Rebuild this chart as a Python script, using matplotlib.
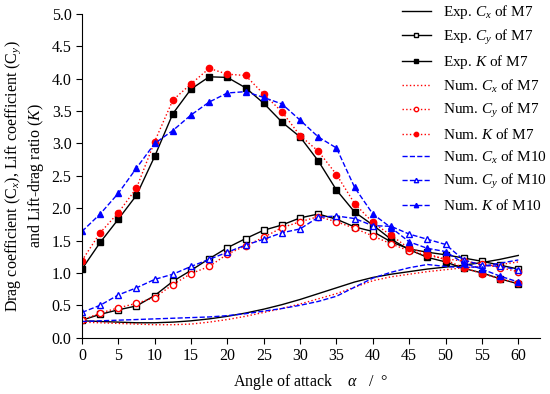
import matplotlib
matplotlib.use("Agg")
import matplotlib.pyplot as plt
import numpy as np

plt.rcParams['font.family'] = ['Liberation Serif', 'DejaVu Serif']
plt.rcParams['mathtext.fontset'] = 'custom'
plt.rcParams['mathtext.rm'] = 'Liberation Serif'
plt.rcParams['mathtext.it'] = 'Liberation Serif:italic'

alpha = [0, 2.5, 5, 7.5, 10, 12.5, 15, 17.5, 20, 22.5, 25, 27.5, 30,
         32.5, 35, 37.5, 40, 42.5, 45, 47.5, 50, 52.5, 55, 57.5, 60]

exp_cx_m7 = [0.26, 0.25, 0.24, 0.23, 0.23, 0.24, 0.26, 0.29, 0.33, 0.38, 0.44, 0.51, 0.59,
             0.68, 0.77, 0.86, 0.93, 0.98, 1.02, 1.06, 1.09, 1.12, 1.16, 1.21, 1.27]
exp_cy_m7 = [0.27, 0.36, 0.43, 0.49, 0.65, 0.87, 1.04, 1.22, 1.39, 1.53, 1.66, 1.74, 1.85,
             1.91, 1.83, 1.71, 1.64, 1.48, 1.37, 1.32, 1.28, 1.23, 1.18, 1.12, 1.06]
exp_k_m7 = [1.06, 1.47, 1.83, 2.20, 2.80, 3.46, 3.84, 4.03, 4.02, 3.86, 3.62, 3.33, 3.10,
            2.73, 2.28, 1.94, 1.74, 1.52, 1.36, 1.24, 1.17, 1.07, 1.00, 0.91, 0.83]

num_cx_m7 = [0.24, 0.23, 0.22, 0.21, 0.20, 0.20, 0.21, 0.24, 0.28, 0.33, 0.39, 0.45, 0.52,
             0.60, 0.68, 0.78, 0.88, 0.94, 0.98, 1.02, 1.05, 1.08, 1.10, 1.13, 1.17]
num_cy_m7 = [0.27, 0.38, 0.46, 0.53, 0.62, 0.82, 0.99, 1.10, 1.29, 1.42, 1.55, 1.70, 1.79,
             1.87, 1.79, 1.69, 1.57, 1.45, 1.34, 1.27, 1.22, 1.18, 1.14, 1.08, 1.02]
num_k_m7 = [1.19, 1.62, 1.93, 2.31, 3.03, 3.67, 3.92, 4.16, 4.07, 4.05, 3.76, 3.49, 3.12,
            2.88, 2.52, 2.07, 1.78, 1.58, 1.38, 1.30, 1.20, 1.08, 0.99, 0.91, 0.84]

num_cx_m10 = [0.25, 0.26, 0.27, 0.28, 0.29, 0.30, 0.31, 0.32, 0.34, 0.37, 0.41, 0.45, 0.50,
              0.56, 0.64, 0.78, 0.92, 1.01, 1.08, 1.13, 1.10, 1.08, 1.10, 1.15, 1.20]
num_cy_m10 = [0.39, 0.50, 0.66, 0.77, 0.90, 0.98, 1.10, 1.21, 1.32, 1.43, 1.52, 1.62, 1.68,
              1.86, 1.88, 1.84, 1.73, 1.72, 1.60, 1.52, 1.44, 1.20, 1.12, 1.10, 1.05]
num_k_m10 = [1.64, 1.91, 2.23, 2.62, 3.00, 3.20, 3.44, 3.64, 3.78, 3.80, 3.71, 3.61, 3.36,
             3.10, 2.93, 2.32, 1.91, 1.70, 1.48, 1.38, 1.33, 1.15, 1.06, 0.95, 0.86]

labels = ['Exp. $C_x$ of M7', 'Exp. $C_y$ of M7', 'Exp. $K$ of M7',
          'Num. $C_x$ of M7', 'Num. $C_y$ of M7', 'Num. $K$ of M7',
          'Num. $C_x$ of M10', 'Num. $C_y$ of M10', 'Num. $K$ of M10']

fig = plt.figure(figsize=(5.5, 3.94), dpi=100)
ax = fig.add_axes([0.149, 0.143, 0.833, 0.8215])

ms = 4.5
lw = 1.0
ax.plot(alpha, exp_cx_m7, '-', color='black', lw=lw, label=labels[0])
ax.plot(alpha, exp_cy_m7, '-', color='black', lw=lw, marker='s', ms=ms,
        mfc='white', mec='black', label=labels[1])
ax.plot(alpha, exp_k_m7, '-', color='black', lw=lw, marker='s', ms=ms,
        mfc='black', mec='black', label=labels[2])
ax.plot(alpha, num_cx_m7, ':', color='red', lw=lw, label=labels[3])
ax.plot(alpha, num_cy_m7, ':', color='red', lw=lw, marker='o', ms=ms,
        mfc='white', mec='red', label=labels[4])
ax.plot(alpha, num_k_m7, ':', color='red', lw=lw, marker='o', ms=ms,
        mfc='red', mec='red', label=labels[5])
ax.plot(alpha, num_cx_m10, '--', color='blue', lw=lw, label=labels[6])
ax.plot(alpha, num_cy_m10, '--', color='blue', lw=lw, marker='^', ms=ms,
        mfc='white', mec='blue', label=labels[7])
ax.plot(alpha, num_k_m10, '--', color='blue', lw=lw, marker='^', ms=ms,
        mfc='blue', mec='blue', label=labels[8])

ax.set_xlim(0, 63)
ax.set_ylim(0, 5.0)
ax.set_xticks(np.arange(0, 61, 5))
ax.set_yticks(np.arange(0, 5.01, 0.5))
ax.set_yticklabels([f'{v:.1f}' for v in np.arange(0, 5.01, 0.5)])
ax.spines['top'].set_visible(False)
ax.spines['right'].set_visible(False)
ax.tick_params(direction='out', labelsize=11.5, length=4)

ax.set_xlabel('Angle of attack    $\\alpha$   /  °', fontsize=11.5, labelpad=6)
ax.set_ylabel('Drag coefficient (C$_x$), Lift coefficient (C$_y$)\nand Lift-drag ratio ($K$)',
              fontsize=11.5, linespacing=1.25)

leg = fig.legend(loc='upper left', bbox_to_anchor=(0.705, 1.027), frameon=False,
                 fontsize=11, handlelength=1.9, labelspacing=0.43, handletextpad=0.8,
                 markerscale=0.7)

fig.savefig('out.png', dpi=100)
